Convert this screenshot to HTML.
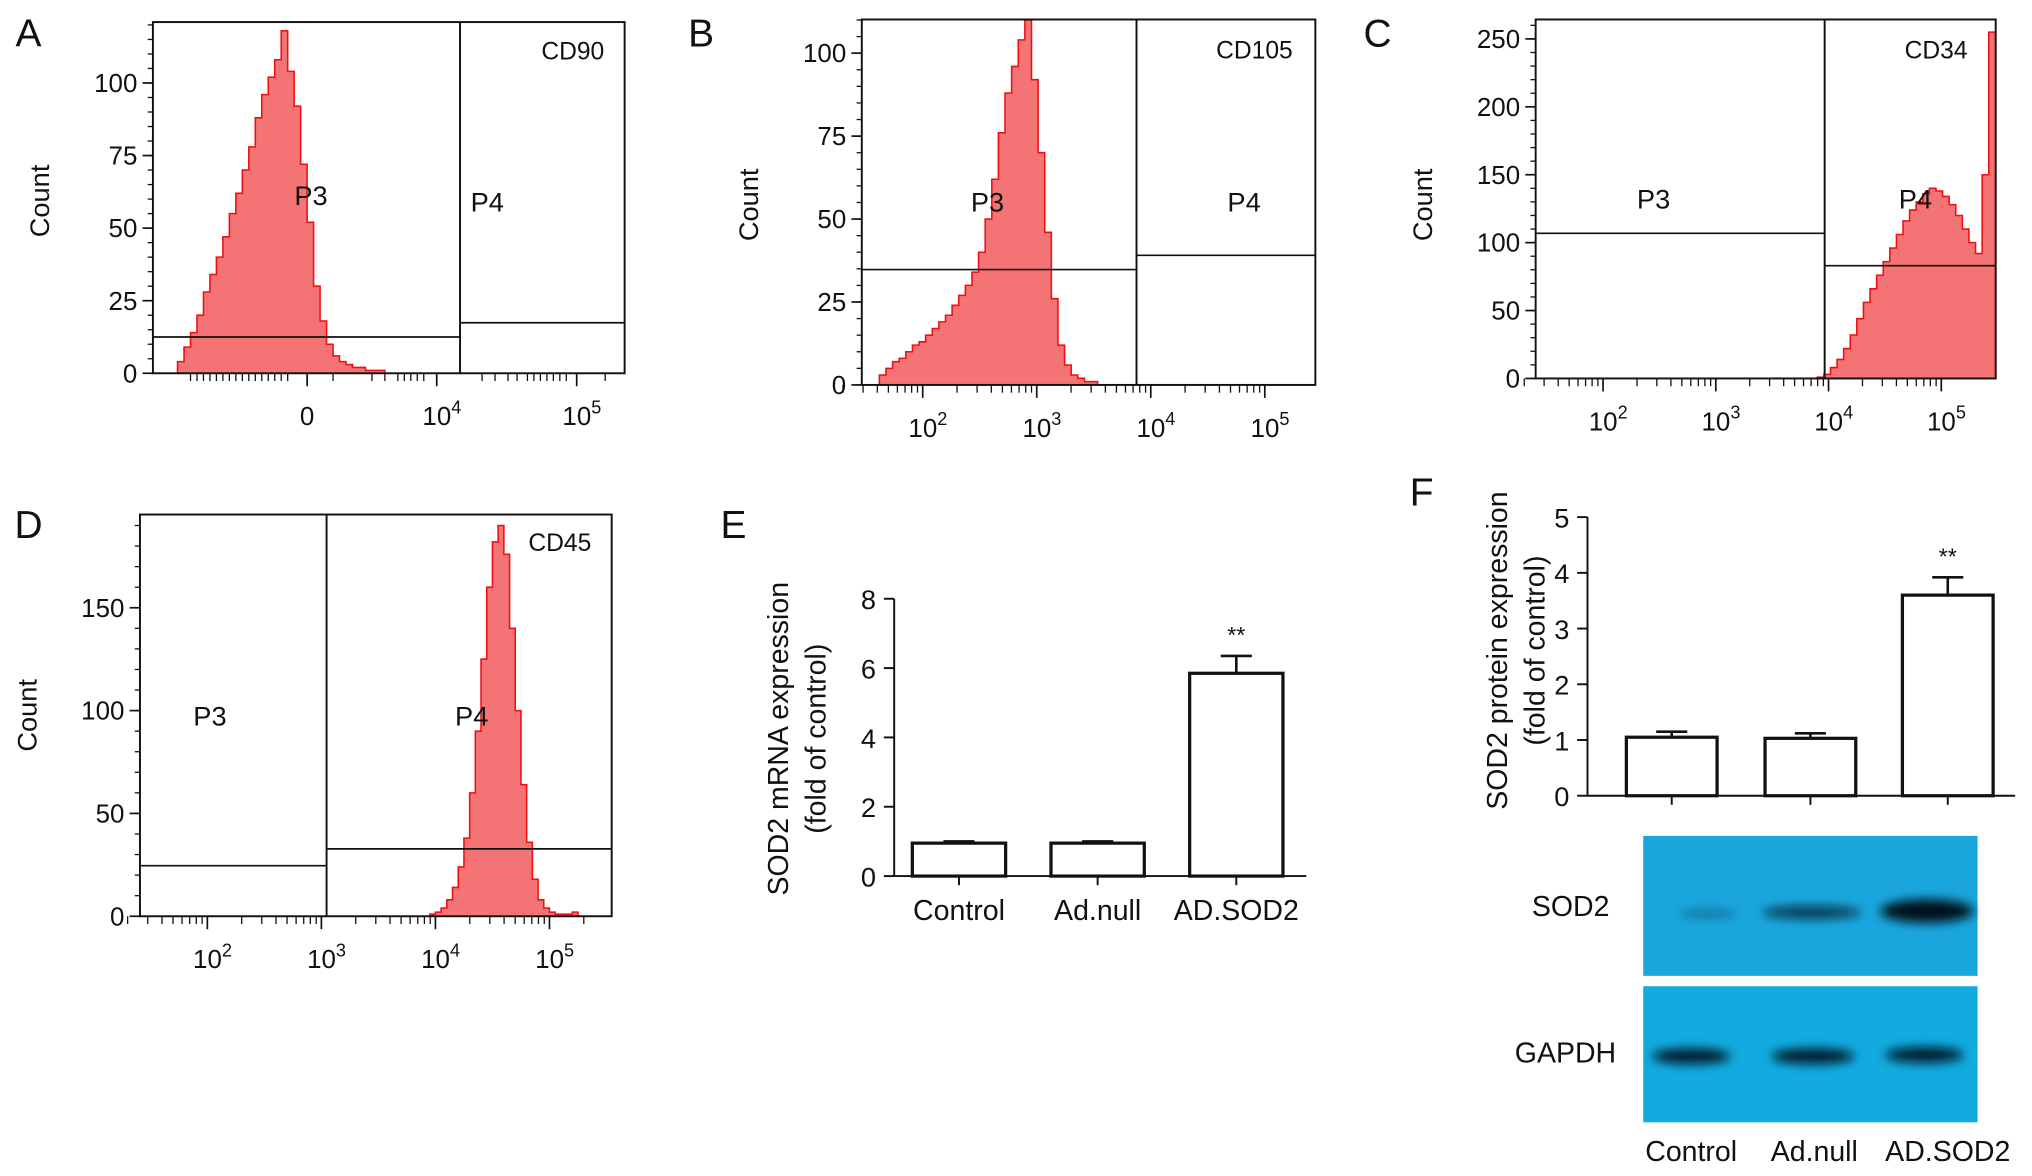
<!DOCTYPE html>
<html><head><meta charset="utf-8"><style>
html,body{margin:0;padding:0;background:#fff}
svg{display:block}
text{font-family:"Liberation Sans",sans-serif;fill:#111}
</style></head><body>
<svg id="s" width="2032" height="1176" viewBox="0 0 1568 907.4" xmlns="http://www.w3.org/2000/svg"></svg>
<script>
// ---- data ----
const histA_start=-1.0, histA_step=0.05;
const histA_counts=[4,9,14,20,28,34,40,47,55,62,70,78,88,96,102,108,118,104,92,72,52,30,18,10,6,4,3,2,2,1,1,1];
const histB_start=1.62, histB_step=0.058;
const histB_counts=[3,5,7,8,10,12,13,15,17,19,21,24,27,30,34,40,50,62,76,88,96,104,110,92,70,46,26,12,6,3,2,1,1];
const histC_start=3.9, histC_step=0.0585;
const histC_counts=[1,3,8,14,22,32,44,56,66,76,86,96,106,116,124,130,136,140,138,134,128,120,110,100,92,150,255];
const histD_start=3.95, histD_step=0.05;
const histD_counts=[1,2,4,8,14,24,38,60,90,125,160,182,190,176,140,100,64,36,18,8,4,2,1,1,1,2];
const barCats=["Control","Ad.null","AD.SOD2"];
const mrnaVals=[0.95,0.95,5.85];
const mrnaErr=[0.05,0.05,0.5];
const protVals=[1.05,1.03,3.6];
const protErr=[0.1,0.09,0.32];
const yTicksE=[0,2,4,6,8];
const yTicksF=[0,1,2,3,4,5];

const S=document.getElementById('s');
const NS="http://www.w3.org/2000/svg";
function el(tag,attrs,parent){const e=document.createElementNS(NS,tag);for(const k in attrs)e.setAttribute(k,attrs[k]);(parent||S).appendChild(e);return e;}
function txt(x,y,str,size,name,extra){const t=el('text',Object.assign({x:x,y:y,'font-size':size,'text-anchor':'middle'},extra||{}));t.textContent=str;


return t;}
function sup(x,y,exp,name){const t=el('text',{x:x,y:y,'font-size':20,'text-anchor':'middle'});


const a=el('tspan',{},t);a.textContent='10';const b=el('tspan',{dy:-9,'font-size':14},t);b.textContent=exp;return t;}
function line(x1,y1,x2,y2,w,name){const l=el('line',{x1,y1,x2,y2,stroke:'#111','stroke-width':w||1.3});


return l;}

function flowPanel(o){
  const g=el('g',{});
  
  
  const xs=v=>o.x0px+(v-o.x0v)*o.pxPerUnit;
  const ys=c=>o.yb-(c)*o.pyPerUnit;
  let pts=[[xs(o.start),o.yb]];
  o.counts.forEach((c,i)=>{const a=xs(o.start+i*o.step),b=xs(o.start+(i+1)*o.step);const y=Math.max(o.yt,ys(c));pts.push([a,y],[b,y]);});
  pts.push([xs(o.start+o.counts.length*o.step),o.yb]);
  const p=el('polygon',{points:pts.map(q=>q.join(',')).join(' '),fill:'#f47374',stroke:'#ee0f12','stroke-width':1.2},g);
  
  
  const r=el('rect',{x:o.xl,y:o.yt,width:o.xr-o.xl,height:o.yb-o.yt,fill:'none',stroke:'#111','stroke-width':1.5},g);
  
  
  line(o.gate,o.yt,o.gate,o.yb,1.5,'gate-divider');
  line(o.xl,o.h3,o.gate,o.h3,1.3,'p3-gate-line');
  line(o.gate,o.h4,o.xr,o.h4,1.3,'p4-gate-line');
  o.yt_ticks.forEach(t=>{const y=ys(t);line(o.xl-8,y,o.xl,y,1.3,'y-tick');txt(o.xl-12,y+7,String(t),20,'y-tick-label',{'text-anchor':'end'});});
  for(let t=0;t<=o.ymax;t+=o.yminor){const y=ys(t);if(y>=o.yt)line(o.xl-4,y,o.xl,y,1,'y-minor-tick');}
  o.xt.forEach(t=>{const x=xs(t.v);line(x,o.yb,x,o.yb+10,1.3,'x-tick');if(t.e===null)txt(x,o.yb+40,'0',20,'x-tick-label');else sup(x+4,o.yb+40,t.e,'x-tick-label');});
  o.minor.forEach(v=>{const x=xs(v);line(x,o.yb,x,o.yb+6,1,'x-minor-tick');});
  txt(o.countX,o.countY,'Count',21,'y-axis-title',{transform:`rotate(-90 ${o.countX} ${o.countY})`});
  txt(o.cdX,o.cdY,o.cd,19,'marker-label',{'font-weight':'normal'});
  txt(o.p3[0],o.p3[1],'P3',21,'gate-p3-label');
  txt(o.p4[0],o.p4[1],'P4',21,'gate-p4-label');
}
function logMinor(a,b){const r=[];for(let d=a;d<b;d++)for(let k=2;k<10;k++)r.push(d+Math.log10(k));return r;}

flowPanel({name:'panel-a-cd90',xl:118,xr:482,yt:17,yb:288,x0px:237,x0v:0,pxPerUnit:100,pyPerUnit:2.24,start:histA_start,step:histA_step,counts:histA_counts,
 gate:355,h3:260,h4:249,yt_ticks:[0,25,50,75,100],ymax:120,yminor:5,xt:[{v:0,e:null},{v:1,e:'4'},{v:2.08,e:'5'}],
 minor:[-0.9,-0.85,-0.8,-0.75,-0.7,-0.65,-0.6,-0.55,-0.5,-0.45,-0.4,-0.35,-0.3,-0.25,-0.2,-0.15,0.2,0.5,0.6,0.7,0.75,0.8,0.85,0.9,1.35,1.45,1.55,1.62,1.7,1.75,1.8,1.85,1.9,1.95,2.0,2.3],
 countX:38,countY:155,cd:'CD90',cdX:442,cdY:46,p3:[240,158],p4:[376,163]});
flowPanel({name:'panel-b-cd105',xl:665,xr:1015,yt:15,yb:297,x0px:712,x0v:2,pxPerUnit:88,pyPerUnit:2.56,start:histB_start,step:histB_step,counts:histB_counts,
 gate:877,h3:208,h4:197,yt_ticks:[0,25,50,75,100],ymax:110,yminor:5,xt:[{v:2,e:'2'},{v:3,e:'3'},{v:4,e:'4'},{v:5,e:'5'}],
 minor:logMinor(1,5),countX:585,countY:158,cd:'CD105',cdX:968,cdY:45,p3:[762,163],p4:[960,163]});
flowPanel({name:'panel-c-cd34',xl:1185,xr:1540,yt:15,yb:292,x0px:1237,x0v:2,pxPerUnit:87,pyPerUnit:1.048,start:histC_start,step:histC_step,counts:histC_counts,
 gate:1408,h3:180,h4:205,yt_ticks:[0,50,100,150,200,250],ymax:260,yminor:10,xt:[{v:2,e:'2'},{v:3,e:'3'},{v:4,e:'4'},{v:5,e:'5'}],
 minor:logMinor(1,5),countX:1105,countY:158,cd:'CD34',cdX:1494,cdY:45,p3:[1276,161],p4:[1478,161]});
flowPanel({name:'panel-d-cd45',xl:108,xr:472,yt:397,yb:707,x0px:160,x0v:2,pxPerUnit:88,pyPerUnit:1.587,start:histD_start,step:histD_step,counts:histD_counts,
 gate:252,h3:668,h4:655,yt_ticks:[0,50,100,150],ymax:190,yminor:10,xt:[{v:2,e:'2'},{v:3,e:'3'},{v:4,e:'4'},{v:5,e:'5'}],
 minor:logMinor(1,6).filter(v=>v<5.4),countX:28,countY:552,cd:'CD45',cdX:432,cdY:425,p3:[162,560],p4:[364,560]});

function barPanel(o){
  const ys=v=>o.y0-v*o.py;
  line(o.ax,ys(o.ticks[o.ticks.length-1]),o.ax,o.y0,1.5,'y-axis');
  line(o.ax,o.y0,o.xend,o.y0,1.5,'x-axis');
  o.ticks.forEach(t=>{const y=ys(t);line(o.ax-8,y,o.ax,y,1.5,'y-tick');txt(o.ax-14,y+8,String(t),21,'y-tick-label',{'text-anchor':'end'});});
  o.vals.forEach((v,i)=>{const x=o.bx[i];
    const eTop=ys(v+o.err[i]);
    line(x+o.bw/2,eTop,x+o.bw/2,ys(v),2,'error-bar');
    line(x+o.bw/2-12,eTop,x+o.bw/2+12,eTop,2,'error-cap');
    const r=el('rect',{x:x,y:ys(v),width:o.bw,height:v*o.py,fill:'#fff',stroke:'#111','stroke-width':2.5});
    
    
    line(x+o.bw/2,o.y0,x+o.bw/2,o.y0+7,1.5,'x-tick');
    if(o.labels)txt(x+o.bw/2,o.y0+34,o.cats[i],22,'x-tick-label');
    if(i===2)txt(x+o.bw/2,eTop-10,'**',18,'significance-marker');
  });
}
barPanel({ax:690,y0:676,py:26.75,xend:1008,ticks:yTicksE,vals:mrnaVals,err:mrnaErr,bx:[704,811,918],bw:72,cats:barCats,labels:true});
txt(608,570,'SOD2 mRNA expression',22,'y-axis-title',{transform:'rotate(-90 608 570)'});
txt(637,570,'(fold of control)',22,'y-axis-subtitle',{transform:'rotate(-90 637 570)'});
barPanel({ax:1225,y0:614,py:43,xend:1555,ticks:yTicksF,vals:protVals,err:protErr,bx:[1255,1362,1468],bw:70,cats:barCats,labels:false});
txt(1163,502,'SOD2 protein expression',22,'y-axis-title',{transform:'rotate(-90 1163 502)'});
txt(1192,502,'(fold of control)',22,'y-axis-subtitle',{transform:'rotate(-90 1192 502)'});
</script>
<script>
(function(){
  const S=document.getElementById('s');const NS="http://www.w3.org/2000/svg";
  function el(tag,a){const e=document.createElementNS(NS,tag);for(const k in a)e.setAttribute(k,a[k]);S.appendChild(e);return e;}
  const defs=el('defs',{});
  defs.innerHTML='<filter id="bl" x="-50%" y="-100%" width="200%" height="300%"><feGaussianBlur stdDeviation="4"/></filter>';
  let r=el('rect',{x:1268,y:645,width:258,height:108,fill:'#1aa6dc'});
  
  
  r=el('rect',{x:1268,y:761,width:258,height:105,fill:'#12aadf'});
  
  
  const bands=[[1318,705,22,3,0.35],[1398,704,38,5,0.7],[1487,703,36,9,0.97],[1305,815,30,6,0.9],[1399,815,32,6,0.9],[1485,814,30,6,0.9]];
  bands.forEach(b=>{const e=el('ellipse',{cx:b[0],cy:b[1],rx:b[2],ry:b[3],fill:'#021018',opacity:b[4],filter:'url(#bl)'});
    
    });
  function t(x,y,s,size,name,anchor){const e=el('text',{x:x,y:y,'font-size':size,'text-anchor':anchor||'middle'});e.textContent=s;
    
    }
  t(1212,707,'SOD2',22,'sod2-row-label');
  t(1208,820,'GAPDH',22,'gapdh-row-label');
  t(1305,896,'Control',22,'blot-lane-label');
  t(1400,896,'Ad.null',22,'blot-lane-label');
  t(1503,896,'AD.SOD2',22,'blot-lane-label');
  [['A',22,36],['B',541,36],['C',1063,36],['D',22,415],['E',566,415],['F',1097,390]].forEach(p=>t(p[1],p[2],p[0],30,'panel-label-'+p[0].toLowerCase()));
})();
</script>
</body></html>
